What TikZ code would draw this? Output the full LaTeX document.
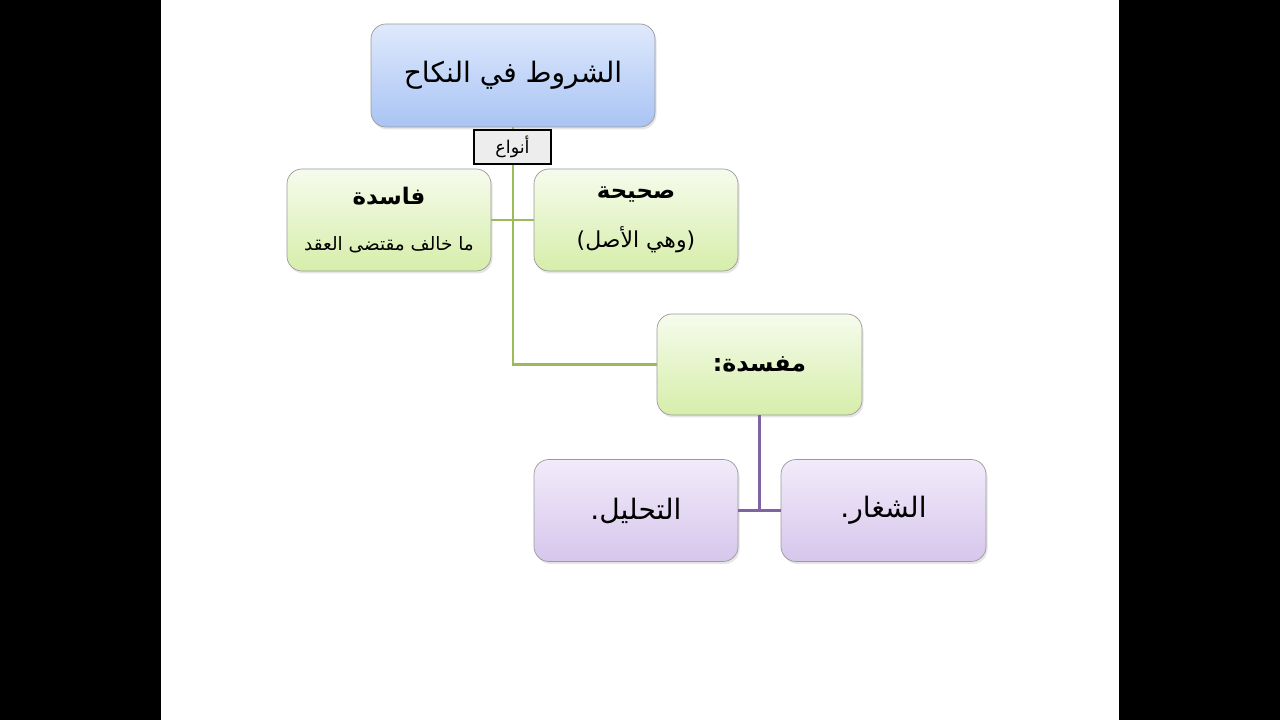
\documentclass[tikz,border=0pt]{standalone}
\usepackage{fontspec}
\usetikzlibrary{positioning,shadows}
\newfontfamily\arabicfont[Script=Arabic]{DejaVu Sans}
\TeXXeTstate=1
\definecolor{blueTop}{HTML}{DFE9FC}
\definecolor{blueBot}{HTML}{A9C4F4}
\definecolor{greenTop}{HTML}{F6FBEC}
\definecolor{greenBot}{HTML}{D6EEAA}
\definecolor{purpleTop}{HTML}{F2EBFA}
\definecolor{purpleBot}{HTML}{D6C6EC}
\definecolor{boxLine}{HTML}{9A9A9A}
\definecolor{greenLine}{HTML}{9BBB59}
\definecolor{purpleLine}{HTML}{8064A2}
\newcommand{\ar}[1]{{\arabicfont\beginR #1\endR}}

\begin{document}
\begin{tikzpicture}
\tikzstyle{every node}=[font=\arabicfont];
\tikzstyle{box}=[draw=boxLine, rounded corners=0.3cm, minimum width=4.08cm, minimum height=2.04cm, align=center, drop shadow={opacity=0.2,shadow xshift=0.03cm,shadow yshift=-0.05cm}];
\tikzstyle{greenbox}=[box, top color=greenTop, bottom color=greenBot];
\tikzstyle{purplebox}=[box, top color=purpleTop, bottom color=purpleBot];

  % slide
  \fill[black] (0,0) rectangle (25.6,14.4);
  \fill[white] (3.22,0) rectangle (22.38,14.4);

  \node[box, top color=blueTop, bottom color=blueBot, minimum width=5.68cm, minimum height=2.06cm] (title) at (10.26,12.89) {\fontsize{16}{20}\selectfont\ar{الشروط في النكاح}};
  \node[greenbox] (fasida) at (7.78,10.0) {\fontsize{13}{16}\selectfont\bfseries\ar{فاسدة}\\[14pt] \fontsize{10.5}{13}\selectfont\ar{ما خالف مقتضى العقد}};
  \node[greenbox] (sahiha) at (12.72,10.0) {\fontsize{13}{16}\selectfont\bfseries\ar{صحيحة}\\[13pt] \fontsize{12.5}{15}\selectfont\ar{(وهي الأصل)}};
  \node[greenbox, minimum width=4.1cm, minimum height=2.02cm] (mufsida) at (15.19,7.11) {\fontsize{13.5}{17}\selectfont\bfseries\ar{مفسدة:}};
  \node[purplebox] (tahlil) at (12.72,4.19) {\fontsize{16}{20}\selectfont\ar{التحليل.}};
  \node[purplebox, minimum width=4.1cm] (shighar) at (17.67,4.19) {\fontsize{16}{20}\selectfont\ar{الشغار.}};

  % connectors
  \draw[greenLine, line width=1.7pt] (title.south) -- (title.south |- mufsida.west) -- (mufsida.west);
  \draw[greenLine, line width=1.7pt] (fasida.east) -- (sahiha.west);
  \draw[purpleLine, line width=1.7pt] (mufsida.south) -- (mufsida.south |- tahlil.east);
  \draw[purpleLine, line width=1.7pt] (tahlil.east) -- (shighar.west);

  \node[draw=black, fill=gray!14, line width=0.9pt, minimum width=1.54cm, minimum height=0.68cm, inner sep=1pt] (anwa) at (10.25,11.46) {\fontsize{10}{12}\selectfont\ar{أنواع}};

\end{tikzpicture}
\end{document}
